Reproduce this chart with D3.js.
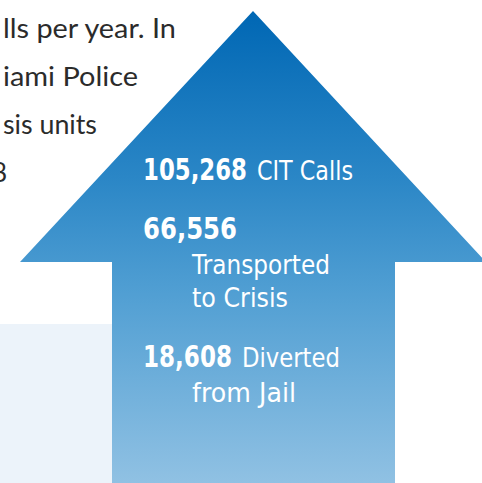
<!DOCTYPE html>
<html>
<head>
<meta charset="utf-8">
<script src="https://cdn.jsdelivr.net/npm/d3@7"></script>
<style>
  body { margin: 0; background: #fff; }
  svg { display: block; }
</style>
</head>
<body>
<svg width="482" height="483"></svg>
<script>
  // figures shown on the arrow
  const counts = [105268, 66556, 18608];
  const labels = [['CIT Calls'], ['', 'Transported', 'to Crisis'], ['Diverted', 'from Jail']];

  // clipped paragraph on the left
  const paraLines = ['lls per year. In', 'iami Police', 'sis units', '8'];

  // gradient stops (offset, colour) top to bottom
  const gradStops = [[0, '#0067b4'], [0.35, '#2a86c6'], [0.6, '#519fd3'], [1, '#90c1e3']];

  const svg = d3.select('svg');
  const width = +svg.attr('width');
  const height = +svg.attr('height');

  const grad = svg.append('defs').append('linearGradient')
    .attr('id', 'arrowGrad')
    .attr('gradientUnits', 'userSpaceOnUse')
    .attr('x1', 0).attr('y1', 11)
    .attr('x2', 0).attr('y2', height);
  grad.selectAll('stop').data(gradStops)
    .enter().append('stop')
      .attr('offset', d => d[0])
      .attr('stop-color', d => d[1]);

  // pale panel behind bottom-left
  svg.append('rect')
    .attr('x', 0).attr('y', 324)
    .attr('width', 112).attr('height', height - 324)
    .attr('fill', '#ecf3fa');

  // squeeze a text horizontally to a target width
  const fitText = (sel, x, y, w) => {
    const natural = sel.node().getComputedTextLength();
    sel.attr('transform', `translate(${x},${y}) scale(${w / natural},1)`);
  };

  // paragraph text
  svg.append('g').selectAll('text').data(paraLines)
    .enter().append('text')
      .attr('fill', '#2b2b2b')
      .attr('font-family', 'Lato, "Open Sans", sans-serif')
      .attr('font-size', 26)
      .text(d => d)
      .each(function (d, i) {
        const w = [173, 135, 94, null][i];
        const s = d3.select(this);
        if (w) fitText(s, 3, 38 + i * 48, w);
        else s.attr('transform', `translate(-8,${38 + i * 48})`);
      });

  // arrow shape
  const tip = [253, 11];
  const shoulderY = 262;
  const pts = [
    tip, [486, shoulderY], [395, shoulderY], [395, height + 2],
    [112, height + 2], [112, shoulderY], [20, shoulderY]
  ];
  svg.append('path')
    .attr('d', d3.line()(pts) + 'Z')
    .attr('fill', 'url(#arrowGrad)');

  // arrow texts
  const fmt = d3.format(',');
  const txt = svg.append('g')
    .attr('fill', '#fff')
    .attr('font-family', '"DejaVu Sans", sans-serif');

  const numY = [180, 239, 367];
  counts.forEach((c, i) => {
    const t = txt.append('text')
      .attr('font-size', 30).attr('font-weight', 'bold')
      .text(fmt(c));
    fitText(t, 143, numY[i], [104, 94, 89][i]);
  });

  // label placement
  const lab = [
    [labels[0][0], 257, 180, 96],
    [labels[1][1], 192, 274, 138],
    [labels[1][2], 192, 307, 96],
    [labels[2][0], 242, 367, 98],
    [labels[2][1], 192, 402, 104]
  ];
  lab.forEach(l => {
    const t = txt.append('text')
      .attr('font-size', 27)
      .text(l[0]);
    fitText(t, l[1], l[2], l[3]);
  });
</script>
</body>
</html>
